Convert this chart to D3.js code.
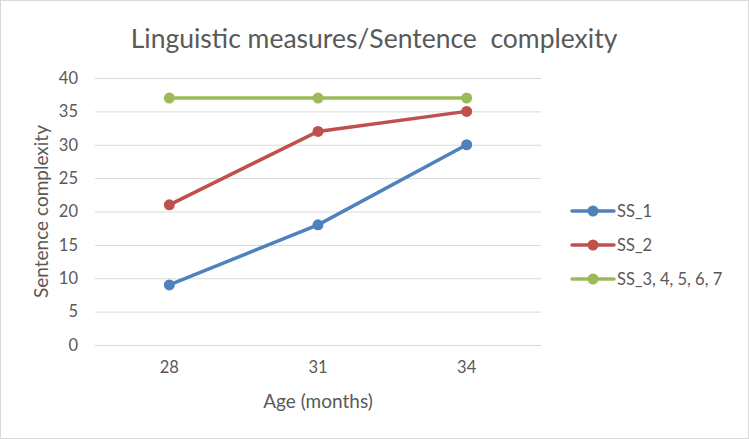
<!DOCTYPE html>
<html>
<head>
<meta charset="utf-8">
<script src="https://cdn.jsdelivr.net/npm/d3@7"></script>
<style>
  body { margin: 0; background: #fff; }
  text { font-family: Lato, "Open Sans", sans-serif; fill: #595959; }
</style>
</head>
<body>
<script>
// Chart data
const ages = ["28", "31", "34"];
const seriesNames = ["SS_1", "SS_2", "SS_3, 4, 5, 6, 7"];
const ss1 = [9, 18, 30];
const ss2 = [21, 32, 35];
const ss3 = [37, 37, 37];
const yTicks = [0, 5, 10, 15, 20, 25, 30, 35, 40];
const colors = ["#4f81bd", "#c0504d", "#9bbb59"];

const series = [ss1, ss2, ss3].map((vals, i) => ({
    name: seriesNames[i],
    color: colors[i],
    values: vals.map((v, j) => ({ age: ages[j], value: v }))
}));

let width = 749,
    height = 439;

let margin = { top: 78, bottom: 94, left: 95, right: 208 };

let svg = d3.select('body')
    .append('svg')
    .attr('width', width)
    .attr('height', height);

// outer border
svg.append('rect')
    .attr('x', 0.5).attr('y', 0.5)
    .attr('width', width - 1).attr('height', height - 1)
    .attr('fill', '#fff')
    .attr('stroke', '#d9d9d9');

let xscale = d3.scaleBand()
    .domain(ages)
    .range([margin.left, width - margin.right]);

let yscale = d3.scaleLinear()
    .domain([0, 40])
    .range([height - margin.bottom, margin.top]);

// gridlines + y axis labels
let yaxis = svg.append('g')
    .attr('transform', `translate(${margin.left},0)`)
    .call(d3.axisLeft(yscale).tickValues(yTicks).tickSize(-(width - margin.left - margin.right)).tickPadding(17));
yaxis.select('.domain').remove();
yaxis.selectAll('line').attr('stroke', '#d9d9d9');
yaxis.selectAll('text').style('font-size', '16.5px').attr('fill', '#595959');

// x axis labels
let xaxis = svg.append('g')
    .attr('transform', `translate(0,${height - margin.bottom})`)
    .call(d3.axisBottom(xscale).tickSize(0).tickPadding(16));
xaxis.select('.domain').remove();
xaxis.selectAll('text').style('font-size', '16.5px').attr('fill', '#595959');

// title
svg.append('text')
    .attr('x', 374)
    .attr('y', 48)
    .attr('text-anchor', 'middle')
    .style('font-size', '26.5px')
    .style('white-space', 'pre')
    .text('Linguistic measures/Sentence  complexity');

// axis titles
svg.append('text')
    .attr('x', (xscale.range()[0] + xscale.range()[1]) / 2)
    .attr('y', 408)
    .attr('text-anchor', 'middle')
    .style('font-size', '19px')
    .text('Age (months)');

svg.append('text')
    .attr('transform', `translate(48,${(yscale(0) + yscale(40)) / 2}) rotate(-90)`)
    .attr('text-anchor', 'middle')
    .style('font-size', '19px')
    .text('Sentence complexity');

// lines
let line = d3.line()
    .x(d => xscale(d.age) + xscale.bandwidth() / 2)
    .y(d => yscale(d.value));

series.forEach(s => {
    svg.append('path')
        .datum(s.values)
        .attr('d', line)
        .attr('fill', 'none')
        .attr('stroke', s.color)
        .attr('stroke-width', 3.5)
        .attr('stroke-linecap', 'round');

    svg.selectAll(null)
        .data(s.values)
        .enter().append('circle')
        .attr('cx', d => xscale(d.age) + xscale.bandwidth() / 2)
        .attr('cy', d => yscale(d.value))
        .attr('r', 5.5)
        .attr('fill', s.color);
});

// legend
const legend = svg.append('g')
    .attr('transform', 'translate(572,211)');

series.forEach((s, i) => {
    let g = legend.append('g').attr('transform', `translate(0,${i * 34})`);
    g.append('line')
        .attr('x1', 0).attr('x2', 42)
        .attr('y1', 0).attr('y2', 0)
        .attr('stroke', s.color)
        .attr('stroke-width', 3.5)
        .attr('stroke-linecap', 'round');
    g.append('circle')
        .attr('cx', 21).attr('cy', 0).attr('r', 5.5)
        .attr('fill', s.color);
    g.append('text')
        .attr('x', 45)
        .attr('y', 6)
        .style('font-size', '16.5px')
        .text(s.name);
});
</script>
</body>
</html>
